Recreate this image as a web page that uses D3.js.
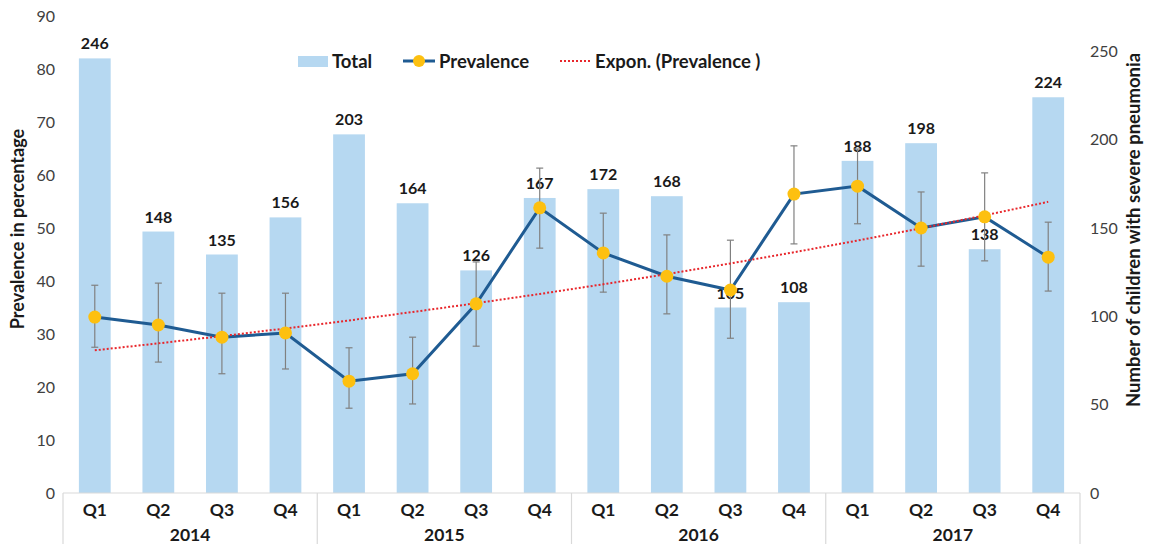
<!DOCTYPE html>
<html>
<head>
<meta charset="utf-8">
<script src="https://cdn.jsdelivr.net/npm/d3@7"></script>
<style>
  body { margin: 0; background: #fff; }
  svg text { font-family: Lato, "Open Sans", sans-serif; }
</style>
</head>
<body>
<svg id="chart"></svg>
<script>
// data
const years = ["2014", "2015", "2016", "2017"];
const quarters = ["Q1", "Q2", "Q3", "Q4"];
const totals = [246, 148, 135, 156, 203, 164, 126, 167, 172, 168, 105, 108, 188, 198, 138, 224];
const prevalence = [33.2, 31.7, 29.4, 30.2, 21.1, 22.5, 35.7, 53.8, 45.3, 40.9, 38.3, 56.4, 57.9, 50.0, 52.1, 44.5];
const errHigh = [39.2, 39.6, 37.7, 37.7, 27.4, 29.4, 43.6, 61.3, 52.8, 48.7, 47.7, 65.5, 64.9, 56.8, 60.4, 51.1];
const errLow = [27.5, 24.7, 22.5, 23.4, 16.0, 16.8, 27.7, 46.2, 37.9, 33.8, 29.2, 47.0, 50.8, 42.8, 43.8, 38.1];
const leftTicks = [0, 10, 20, 30, 40, 50, 60, 70, 80, 90];
const rightTicks = [0, 50, 100, 150, 200, 250];

const W = 1150, H = 544;
const margin = {top: 16, right: 70, bottom: 51, left: 63};

const svg = d3.select("#chart").attr("width", W).attr("height", H);

const cats = [];
years.forEach(y => quarters.forEach(q => cats.push(y + " " + q)));

const x = d3.scaleBand()
  .domain(cats)
  .range([margin.left, W - margin.right])
  .paddingInner(0.5)
  .paddingOuter(0.25);

const yL = d3.scaleLinear().domain([0, 90]).range([H - margin.bottom, margin.top]);
const yR = d3.scaleLinear().domain([0, 270]).range([H - margin.bottom, margin.top]);

const cx = i => x(cats[i]) + x.bandwidth() / 2;

// bars
svg.append("g").selectAll("rect")
  .data(totals)
  .join("rect")
  .attr("x", (d, i) => x(cats[i]))
  .attr("y", d => yR(d))
  .attr("width", x.bandwidth())
  .attr("height", d => yR(0) - yR(d))
  .attr("fill", "#b6d8f1");

// bar labels
svg.append("g").selectAll("text")
  .data(totals)
  .join("text")
  .attr("x", (d, i) => cx(i))
  .attr("y", d => yR(d) - 9)
  .attr("text-anchor", "middle")
  .attr("font-size", 16)
  .attr("font-weight", "bold")
  .attr("fill", "#1a1a1a")
  .text(d => d);

// exponential trendline fitted to the prevalence
const n = prevalence.length;
const xs = d3.range(1, n + 1);
const ly = prevalence.map(Math.log);
const mx = d3.mean(xs), my = d3.mean(ly);
const b = d3.sum(xs, (v, i) => (v - mx) * (ly[i] - my)) / d3.sum(xs, v => (v - mx) ** 2);
const a = my - b * mx;
const trend = xs.map(v => Math.exp(a + b * v));

// error bars
const eg = svg.append("g").attr("stroke", "#808080").attr("stroke-width", 1.2);
prevalence.forEach((d, i) => {
  eg.append("line").attr("x1", cx(i)).attr("x2", cx(i)).attr("y1", yL(errLow[i])).attr("y2", yL(errHigh[i]));
  eg.append("line").attr("x1", cx(i) - 3.5).attr("x2", cx(i) + 3.5).attr("y1", yL(errLow[i])).attr("y2", yL(errLow[i]));
  eg.append("line").attr("x1", cx(i) - 3.5).attr("x2", cx(i) + 3.5).attr("y1", yL(errHigh[i])).attr("y2", yL(errHigh[i]));
});

// prevalence line
svg.append("path")
  .datum(prevalence)
  .attr("fill", "none")
  .attr("stroke", "#1f5b92")
  .attr("stroke-width", 3)
  .attr("d", d3.line().x((d, i) => cx(i)).y(d => yL(d)));

svg.append("path")
  .datum(trend)
  .attr("fill", "none")
  .attr("stroke", "#e8262b")
  .attr("stroke-width", 2)
  .attr("stroke-dasharray", "2,2")
  .attr("d", d3.line().x((d, i) => cx(i)).y(d => yL(d)));

svg.append("g").selectAll("circle")
  .data(prevalence)
  .join("circle")
  .attr("cx", (d, i) => cx(i))
  .attr("cy", d => yL(d))
  .attr("r", 6.5)
  .attr("fill", "#fdc010");

// axes
const baseY = H - margin.bottom;
svg.append("line")
  .attr("x1", margin.left).attr("x2", W - margin.right)
  .attr("y1", baseY).attr("y2", baseY)
  .attr("stroke", "#d9d9d9").attr("stroke-width", 1.2);

// year separators
d3.range(years.length + 1).forEach(k => {
  const px = k === 0 ? margin.left
    : k === years.length ? W - margin.right
    : x(cats[k * 4]) - x.step() * x.paddingInner() / 2;
  svg.append("line")
    .attr("x1", px).attr("x2", px)
    .attr("y1", baseY).attr("y2", H)
    .attr("stroke", "#d9d9d9").attr("stroke-width", 1.2);
});

// quarter labels
svg.append("g").selectAll("text")
  .data(cats)
  .join("text")
  .attr("x", (d, i) => cx(i))
  .attr("y", baseY + 23)
  .attr("text-anchor", "middle")
  .attr("font-size", 17.5)
  .attr("font-weight", "bold")
  .attr("fill", "#1a1a1a")
  .text(d => d.split(" ")[1]);

// year labels
svg.append("g").selectAll("text")
  .data(years)
  .join("text")
  .attr("x", (d, k) => (cx(k * 4) + cx(k * 4 + 3)) / 2)
  .attr("y", baseY + 48)
  .attr("text-anchor", "middle")
  .attr("font-size", 17.5)
  .attr("font-weight", "bold")
  .attr("fill", "#1a1a1a")
  .text(d => d);

const leftAxis = svg.append("g")
  .attr("transform", `translate(${margin.left},0)`)
  .call(d3.axisLeft(yL).tickValues(leftTicks).tickSize(0).tickPadding(8));
const rightAxis = svg.append("g")
  .attr("transform", `translate(${W - margin.right},0)`)
  .call(d3.axisRight(yR).tickValues(rightTicks).tickSize(0).tickPadding(10));
[leftAxis, rightAxis].forEach(g => {
  g.select(".domain").remove();
  g.selectAll("text").attr("font-size", 16).attr("fill", "#404040")
    .style("font-family", "Lato, 'Open Sans', sans-serif");
});

// axis titles
svg.append("text")
  .attr("transform", `translate(24,229) rotate(-90)`)
  .attr("text-anchor", "middle")
  .attr("font-size", 18)
  .attr("font-weight", "bold")
  .attr("fill", "#1a1a1a")
  .text("Prevalence in percentage");

svg.append("text")
  .attr("transform", `translate(1140,230) rotate(-90)`)
  .attr("text-anchor", "middle")
  .attr("font-size", 18.5)
  .attr("font-weight", "bold")
  .attr("fill", "#1a1a1a")
  .text("Number of children with severe pneumonia");

// legend
const lg = svg.append("g").attr("font-size", 18.5).attr("font-weight", "bold").attr("fill", "#1a1a1a");
lg.append("rect").attr("x", 298).attr("y", 56).attr("width", 30).attr("height", 11).attr("fill", "#b6d8f1");
lg.append("text").attr("x", 332).attr("y", 67.5).text("Total");
lg.append("line").attr("x1", 403).attr("x2", 435).attr("y1", 61).attr("y2", 61)
  .attr("stroke", "#1f5b92").attr("stroke-width", 3);
lg.append("circle").attr("cx", 419).attr("cy", 61).attr("r", 6).attr("fill", "#fdc010");
lg.append("text").attr("x", 439).attr("y", 67.5).text("Prevalence");
lg.append("line").attr("x1", 560).attr("x2", 592).attr("y1", 61).attr("y2", 61)
  .attr("stroke", "#e8262b").attr("stroke-width", 2).attr("stroke-dasharray", "2,2");
lg.append("text").attr("x", 595).attr("y", 67.5).text("Expon. (Prevalence )");
</script>
</body>
</html>
